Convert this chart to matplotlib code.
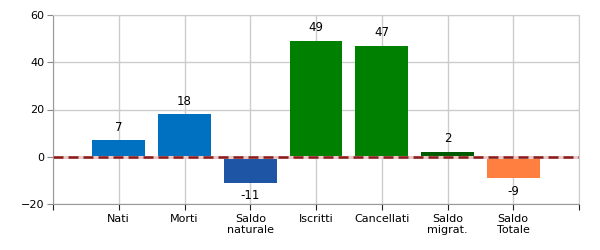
import matplotlib
matplotlib.use("Agg")
import matplotlib.pyplot as plt

categories = ["Nati", "Morti", "Saldo\nnaturale", "Iscritti", "Cancellati", "Saldo\nmigrat.", "Saldo\nTotale"]
values = [7, 18, -11, 49, 47, 2, -9]
colors = ["#0070C0", "#0070C0", "#1F55A5", "#008000", "#008000", "#005A00", "#FF7F41"]
yticks = [-20, 0, 20, 40, 60]

fig = plt.figure(figsize=(6, 2.5), dpi=100)
ax = fig.add_axes([53/600, 1-204/250, (579-53)/600, (204-15)/250])

x = list(range(len(categories)))
ax.bar(x, values, width=0.8, color=colors, zorder=3)

ax.set_xlim(-1, len(categories))
ax.set_ylim(-20, 60)
ax.set_yticks(yticks)
ax.set_xticks([-1] + x + [len(categories)])
ax.set_xticklabels([""] + categories + [""], fontsize=8)
ax.tick_params(axis='y', labelsize=8, length=4, color="#888888", pad=2)
ax.tick_params(axis='x', length=4, color="#222222", pad=3)

ax.grid(True, color="#cccccc", linewidth=1, zorder=0)
ax.set_axisbelow(True)
for s in ["top", "right"]:
    ax.spines[s].set_color("#cccccc")
for s in ["left", "bottom"]:
    ax.spines[s].set_color("#999999")

ax.axhline(0, color="#e8c8c8", linewidth=2.2, zorder=4)
ax.axhline(0, color="#8B1A1A", linewidth=1.8, linestyle=(0, (4, 2)), zorder=5)

for xi, v in zip(x, values):
    off = 9.5 if v >= 0 else -9.5
    ax.annotate(str(v), (xi, v), xytext=(0, off), textcoords="offset points",
                ha="center", va="center", fontsize=8.5, zorder=6)

fig.savefig("out.png", dpi=100)
